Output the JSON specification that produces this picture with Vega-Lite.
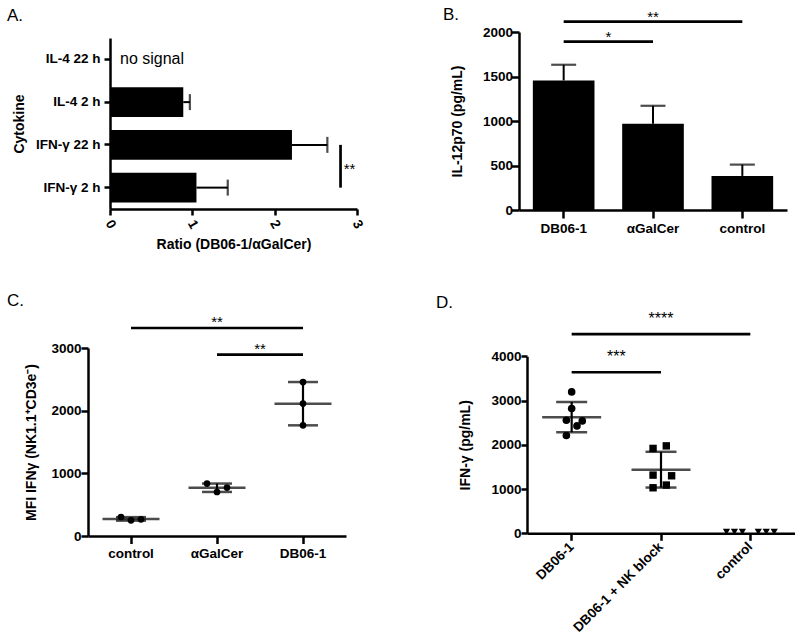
{
"$schema": "https://vega.github.io/schema/vega-lite/v6.json",
"background": "white",
"padding": {"left": 7, "top": 6, "right": 0, "bottom": 0},
"config": {
  "view": {"stroke": null},
  "font": "Liberation Sans",
  "axis": {"domainColor": "black", "domainWidth": 2.5, "tickColor": "black", "tickWidth": 2.5, "labelColor": "black", "labelFont": "Liberation Sans", "labelFontSize": 13.5, "labelFontWeight": "bold", "titleColor": "black", "titleFont": "Liberation Sans", "titleFontSize": 14, "titleFontWeight": "bold", "grid": false, "labelOverlap": false, "labelFlush": false, "labelBound": false},
  "title": {"fontSize": 17, "fontWeight": "normal", "anchor": "start", "frame": "group", "color": "black", "font": "Liberation Sans", "baseline": "alphabetic"},
  "text": {"font": "Liberation Sans", "color": "black"},
  "tick": {"color": "black"},
  "rule": {"color": "black"}
},
"resolve": {"scale": {"xOffset": "independent", "shape": "independent", "size": "independent"}},
"datasets": {
  "a": [
    {"cytokine": "IL-4 22 h", "ratio": null, "upper": null, "note": "no signal"},
    {"cytokine": "IL-4 2 h", "ratio": 0.89, "upper": 0.97, "note": ""},
    {"cytokine": "IFN-γ 22 h", "ratio": 2.21, "upper": 2.64, "note": ""},
    {"cytokine": "IFN-γ 2 h", "ratio": 1.05, "upper": 1.43, "note": ""}
  ],
  "asig": [{"cytokine": "IFN-γ 22 h", "to": "IFN-γ 2 h", "x": 2.8, "label": "**"}],
  "b": [
    {"group": "DB06-1", "mean": 1456, "upper": 1632},
    {"group": "αGalCer", "mean": 968, "upper": 1171},
    {"group": "control", "mean": 383, "upper": 510}
  ],
  "bsig": [
    {"group": "DB06-1", "to": "αGalCer", "y": 1891, "label": "*", "span": "adjacent", "mid": "DB06-1"},
    {"group": "DB06-1", "to": "control", "y": 2116, "label": "**", "span": "wide", "mid": "αGalCer"}
  ],
  "cpts": [
    {"group": "control", "value": 303, "slot": -2},
    {"group": "control", "value": 250, "slot": 0},
    {"group": "control", "value": 266, "slot": 2},
    {"group": "αGalCer", "value": 836, "slot": -2},
    {"group": "αGalCer", "value": 702, "slot": 0},
    {"group": "αGalCer", "value": 772, "slot": 2},
    {"group": "DB06-1", "value": 2457, "slot": 0},
    {"group": "DB06-1", "value": 2113, "slot": 0},
    {"group": "DB06-1", "value": 1766, "slot": 0}
  ],
  "csum": [
    {"group": "control", "mean": 273, "lo": 245, "hi": 301},
    {"group": "αGalCer", "mean": 770, "lo": 703, "hi": 837},
    {"group": "DB06-1", "mean": 2112, "lo": 1766, "hi": 2457}
  ],
  "csig": [
    {"group": "control", "to": "DB06-1", "y": 3319, "label": "**", "span": "wide", "mid": "αGalCer"},
    {"group": "αGalCer", "to": "DB06-1", "y": 2894, "label": "**", "span": "adjacent", "mid": "αGalCer"}
  ],
  "dpts": [
    {"group": "DB06-1", "value": 3195, "jit": 0},
    {"group": "DB06-1", "value": 2820, "jit": 0},
    {"group": "DB06-1", "value": 2556, "jit": -2},
    {"group": "DB06-1", "value": 2540, "jit": 4},
    {"group": "DB06-1", "value": 2427, "jit": 2},
    {"group": "DB06-1", "value": 2211, "jit": -2},
    {"group": "DB06-1 + NK block", "value": 1918, "jit": -3},
    {"group": "DB06-1 + NK block", "value": 1976, "jit": 2},
    {"group": "DB06-1 + NK block", "value": 1315, "jit": -3},
    {"group": "DB06-1 + NK block", "value": 1300, "jit": 4},
    {"group": "DB06-1 + NK block", "value": 1090, "jit": 2},
    {"group": "DB06-1 + NK block", "value": 1029, "jit": -3},
    {"group": "control", "value": 30, "jit": -9},
    {"group": "control", "value": 30, "jit": -6},
    {"group": "control", "value": 30, "jit": -3},
    {"group": "control", "value": 30, "jit": 3},
    {"group": "control", "value": 30, "jit": 6},
    {"group": "control", "value": 30, "jit": 9}
  ],
  "dsum": [
    {"group": "DB06-1", "mean": 2624, "lo": 2285, "hi": 2969},
    {"group": "DB06-1 + NK block", "mean": 1438, "lo": 1034, "hi": 1842}
  ],
  "dsig": [
    {"group": "DB06-1", "to": "DB06-1 + NK block", "y": 3639, "label": "***", "span": "adjacent", "mid": "DB06-1"},
    {"group": "DB06-1", "to": "control", "y": 4503, "label": "****", "span": "wide", "mid": "DB06-1 + NK block"}
  ]
},
"columns": 2,
"spacing": {"row": 40, "column": 71},
"concat": [
  {
    "width": 269,
    "height": 177,
    "title": {"text": "A.", "dx": -81, "offset": 6.8},
    "data": {"name": "a"},
    "encoding": {
      "y": {"field": "cytokine", "type": "nominal", "title": "Cytokine", "scale": {"domain": ["IL-4 22 h", "IL-4 2 h", "IFN-γ 22 h", "IFN-γ 2 h"], "range": [6, 177], "paddingInner": 0.3, "paddingOuter": 0.15}, "axis": {"offset": -22, "tickSize": 6, "labelPadding": 4, "titlePadding": 8.5}}
    },
    "layer": [
      {"mark": {"type": "bar", "color": "black"},
       "encoding": {"x": {"field": "ratio", "type": "quantitative", "title": "Ratio (DB06-1/αGalCer)", "scale": {"domain": [0, 3], "range": [22, 269], "nice": false}, "axis": {"values": [0, 1, 2, 3], "format": "d", "labelAngle": 60, "labelAlign": "center", "labelBaseline": "middle", "tickSize": 6, "labelPadding": 9, "titlePadding": 7}}}},
      {"mark": {"type": "rule", "strokeWidth": 2},
       "encoding": {"x": {"field": "ratio", "type": "quantitative", "title": "Ratio (DB06-1/αGalCer)"}, "x2": {"field": "upper"}}},
      {"mark": {"type": "tick", "thickness": 2.2, "size": 16, "orient": "vertical"},
       "encoding": {"x": {"field": "upper", "type": "quantitative", "title": "Ratio (DB06-1/αGalCer)"}}},
      {"transform": [{"filter": "datum.note != ''"}],
       "mark": {"type": "text", "align": "left", "baseline": "middle", "fontSize": 16, "dx": 10},
       "encoding": {"x": {"datum": 0, "type": "quantitative", "title": "Ratio (DB06-1/αGalCer)"}, "text": {"field": "note"}}},
      {"data": {"name": "asig"},
       "mark": {"type": "rule", "strokeWidth": 2.7},
       "encoding": {"x": {"field": "x", "type": "quantitative", "title": "Ratio (DB06-1/αGalCer)"}, "y2": {"field": "to"}}},
      {"data": {"name": "asig"},
       "mark": {"type": "text", "fontSize": 15, "baseline": "alphabetic", "align": "center", "dx": 9, "dy": 29},
       "encoding": {"x": {"field": "x", "type": "quantitative", "title": "Ratio (DB06-1/αGalCer)"}, "text": {"field": "label"}}}
    ]
  },
  {
    "width": 268,
    "height": 178,
    "title": {"text": "B.", "dx": -76, "offset": -14.5},
    "layer": [
      {"data": {"name": "b"},
       "mark": {"type": "bar", "color": "black", "width": {"band": 0.69}},
       "encoding": {
         "x": {"field": "group", "type": "nominal", "title": null, "scale": {"type": "band", "domain": ["DB06-1", "αGalCer", "control"], "paddingInner": 0, "paddingOuter": 0}, "axis": {"labelAngle": 0, "tickSize": 8, "labelPadding": 3}},
         "y": {"field": "mean", "type": "quantitative", "title": "IL-12p70 (pg/mL)", "scale": {"domain": [0, 2000], "nice": false}, "axis": {"values": [0, 500, 1000, 1500, 2000], "format": "d", "tickSize": 7.5, "labelPadding": -1, "titlePadding": 18}}}},
      {"data": {"name": "b"},
       "mark": {"type": "rule", "strokeWidth": 2},
       "encoding": {"x": {"field": "group", "type": "nominal", "title": null}, "y": {"field": "mean", "type": "quantitative", "title": "IL-12p70 (pg/mL)"}, "y2": {"field": "upper"}}},
      {"data": {"name": "b"},
       "mark": {"type": "tick", "thickness": 2.2, "size": 25},
       "encoding": {"x": {"field": "group", "type": "nominal", "title": null}, "y": {"field": "upper", "type": "quantitative", "title": "IL-12p70 (pg/mL)"}}},
      {"data": {"name": "bsig"},
       "mark": {"type": "rule", "strokeWidth": 2.7},
       "encoding": {"x": {"field": "group", "type": "nominal", "title": null}, "x2": {"field": "to"}, "y": {"field": "y", "type": "quantitative", "title": "IL-12p70 (pg/mL)"}}},
      {"data": {"name": "bsig"},
       "transform": [{"filter": "datum.span == 'adjacent'"}],
       "mark": {"type": "text", "fontSize": 15, "baseline": "alphabetic", "align": "center"},
       "encoding": {"x": {"field": "group", "type": "nominal", "title": null, "bandPosition": 1}, "y": {"field": "y", "type": "quantitative", "title": "IL-12p70 (pg/mL)"}, "text": {"field": "label"}}},
      {"data": {"name": "bsig"},
       "transform": [{"filter": "datum.span == 'wide'"}],
       "mark": {"type": "text", "fontSize": 15, "baseline": "alphabetic", "align": "center"},
       "encoding": {"x": {"field": "mid", "type": "nominal", "title": null}, "y": {"field": "y", "type": "quantitative", "title": "IL-12p70 (pg/mL)"}, "text": {"field": "label"}}}
    ]
  },
  {
    "width": 258,
    "height": 188,
    "title": {"text": "C.", "dx": -81, "offset": 4.7},
    "layer": [
      {"data": {"name": "csum"},
       "mark": {"type": "rule", "strokeWidth": 2.2},
       "encoding": {
         "x": {"field": "group", "type": "nominal", "title": null, "scale": {"type": "band", "domain": ["control", "αGalCer", "DB06-1"], "paddingInner": 0, "paddingOuter": 0}, "axis": {"labelAngle": 0, "tickSize": 7.5, "labelPadding": 3}},
         "y": {"field": "lo", "type": "quantitative", "title": "MFI IFNγ (NK1.1⁺CD3e⁻)", "scale": {"domain": [0, 3000], "nice": false}, "axis": {"values": [0, 1000, 2000, 3000], "format": "d", "tickSize": 7, "labelPadding": 0, "titlePadding": 12}},
         "y2": {"field": "hi"}}},
      {"data": {"name": "csum"},
       "mark": {"type": "tick", "thickness": 2.5, "size": 57},
       "encoding": {"x": {"field": "group", "type": "nominal", "title": null}, "y": {"field": "mean", "type": "quantitative", "title": "MFI IFNγ (NK1.1⁺CD3e⁻)"}}},
      {"data": {"name": "csum"},
       "mark": {"type": "tick", "thickness": 2.5, "size": 30},
       "encoding": {"x": {"field": "group", "type": "nominal", "title": null}, "y": {"field": "lo", "type": "quantitative", "title": "MFI IFNγ (NK1.1⁺CD3e⁻)"}}},
      {"data": {"name": "csum"},
       "mark": {"type": "tick", "thickness": 2.5, "size": 30},
       "encoding": {"x": {"field": "group", "type": "nominal", "title": null}, "y": {"field": "hi", "type": "quantitative", "title": "MFI IFNγ (NK1.1⁺CD3e⁻)"}}},
      {"data": {"name": "cpts"},
       "mark": {"type": "point", "filled": true, "color": "black", "opacity": 1, "size": 45},
       "encoding": {"x": {"field": "group", "type": "nominal", "title": null}, "xOffset": {"field": "slot", "type": "quantitative", "scale": {"domain": [-10, 10], "range": [-7, 93]}}, "y": {"field": "value", "type": "quantitative", "title": "MFI IFNγ (NK1.1⁺CD3e⁻)"}}},
      {"data": {"name": "csig"},
       "mark": {"type": "rule", "strokeWidth": 2.7},
       "encoding": {"x": {"field": "group", "type": "nominal", "title": null}, "x2": {"field": "to"}, "y": {"field": "y", "type": "quantitative", "title": "MFI IFNγ (NK1.1⁺CD3e⁻)"}}},
      {"data": {"name": "csig"},
       "transform": [{"filter": "datum.span == 'adjacent'"}],
       "mark": {"type": "text", "fontSize": 15, "baseline": "alphabetic", "align": "center", "dy": -1},
       "encoding": {"x": {"field": "group", "type": "nominal", "title": null, "bandPosition": 1}, "y": {"field": "y", "type": "quantitative", "title": "MFI IFNγ (NK1.1⁺CD3e⁻)"}, "text": {"field": "label"}}},
      {"data": {"name": "csig"},
       "transform": [{"filter": "datum.span == 'wide'"}],
       "mark": {"type": "text", "fontSize": 15, "baseline": "alphabetic", "align": "center", "dy": -1},
       "encoding": {"x": {"field": "mid", "type": "nominal", "title": null}, "y": {"field": "y", "type": "quantitative", "title": "MFI IFNγ (NK1.1⁺CD3e⁻)"}, "text": {"field": "label"}}}
    ]
  },
  {
    "width": 276,
    "height": 185.3,
    "title": {"text": "D.", "dx": -83, "offset": -1.1},
    "layer": [
      {"data": {"name": "dsum"},
       "mark": {"type": "rule", "strokeWidth": 2.2},
       "encoding": {
         "x": {"field": "group", "type": "nominal", "title": null, "scale": {"type": "band", "domain": ["DB06-1", "DB06-1 + NK block", "control"], "range": [8, 276], "paddingInner": 0, "paddingOuter": 0}, "axis": {"labelAngle": -45, "labelAlign": "right", "labelBaseline": "middle", "tickSize": 7, "labelPadding": 4}},
         "y": {"field": "lo", "type": "quantitative", "title": "IFN-γ (pg/mL)", "scale": {"domain": [0, 4000], "range": [185.3, 8.3], "nice": false}, "axis": {"offset": -8, "values": [0, 1000, 2000, 3000, 4000], "format": "d", "tickSize": 6, "labelPadding": 0, "titlePadding": 18}},
         "y2": {"field": "hi"}}},
      {"data": {"name": "dsum"},
       "mark": {"type": "tick", "thickness": 2.5, "size": 59},
       "encoding": {"x": {"field": "group", "type": "nominal", "title": null}, "y": {"field": "mean", "type": "quantitative", "title": "IFN-γ (pg/mL)"}}},
      {"data": {"name": "dsum"},
       "mark": {"type": "tick", "thickness": 2.5, "size": 31},
       "encoding": {"x": {"field": "group", "type": "nominal", "title": null}, "y": {"field": "lo", "type": "quantitative", "title": "IFN-γ (pg/mL)"}}},
      {"data": {"name": "dsum"},
       "mark": {"type": "tick", "thickness": 2.5, "size": 31},
       "encoding": {"x": {"field": "group", "type": "nominal", "title": null}, "y": {"field": "hi", "type": "quantitative", "title": "IFN-γ (pg/mL)"}}},
      {"data": {"name": "dpts"},
       "mark": {"type": "point", "filled": true, "color": "black", "opacity": 1},
       "encoding": {
         "x": {"field": "group", "type": "nominal", "title": null},
         "xOffset": {"field": "jit", "type": "quantitative", "scale": {"domain": [-10, 10], "range": [18.17, 71.17]}},
         "y": {"field": "value", "type": "quantitative", "title": "IFN-γ (pg/mL)"},
         "shape": {"field": "group", "type": "nominal", "scale": {"domain": ["DB06-1", "DB06-1 + NK block", "control"], "range": ["circle", "square", "triangle-down"]}, "legend": null},
         "size": {"field": "group", "type": "ordinal", "scale": {"domain": ["DB06-1", "DB06-1 + NK block", "control"], "range": [58, 52, 32]}, "legend": null}}},
      {"data": {"name": "dsig"},
       "mark": {"type": "rule", "strokeWidth": 2.7},
       "encoding": {"x": {"field": "group", "type": "nominal", "title": null}, "x2": {"field": "to"}, "y": {"field": "y", "type": "quantitative", "title": "IFN-γ (pg/mL)"}}},
      {"data": {"name": "dsig"},
       "transform": [{"filter": "datum.span == 'adjacent'"}],
       "mark": {"type": "text", "fontSize": 16, "baseline": "alphabetic", "align": "center", "dy": -10},
       "encoding": {"x": {"field": "group", "type": "nominal", "title": null, "bandPosition": 1}, "y": {"field": "y", "type": "quantitative", "title": "IFN-γ (pg/mL)"}, "text": {"field": "label"}}},
      {"data": {"name": "dsig"},
       "transform": [{"filter": "datum.span == 'wide'"}],
       "mark": {"type": "text", "fontSize": 16, "baseline": "alphabetic", "align": "center", "dy": -10},
       "encoding": {"x": {"field": "mid", "type": "nominal", "title": null}, "y": {"field": "y", "type": "quantitative", "title": "IFN-γ (pg/mL)"}, "text": {"field": "label"}}}
    ]
  }
]
}
